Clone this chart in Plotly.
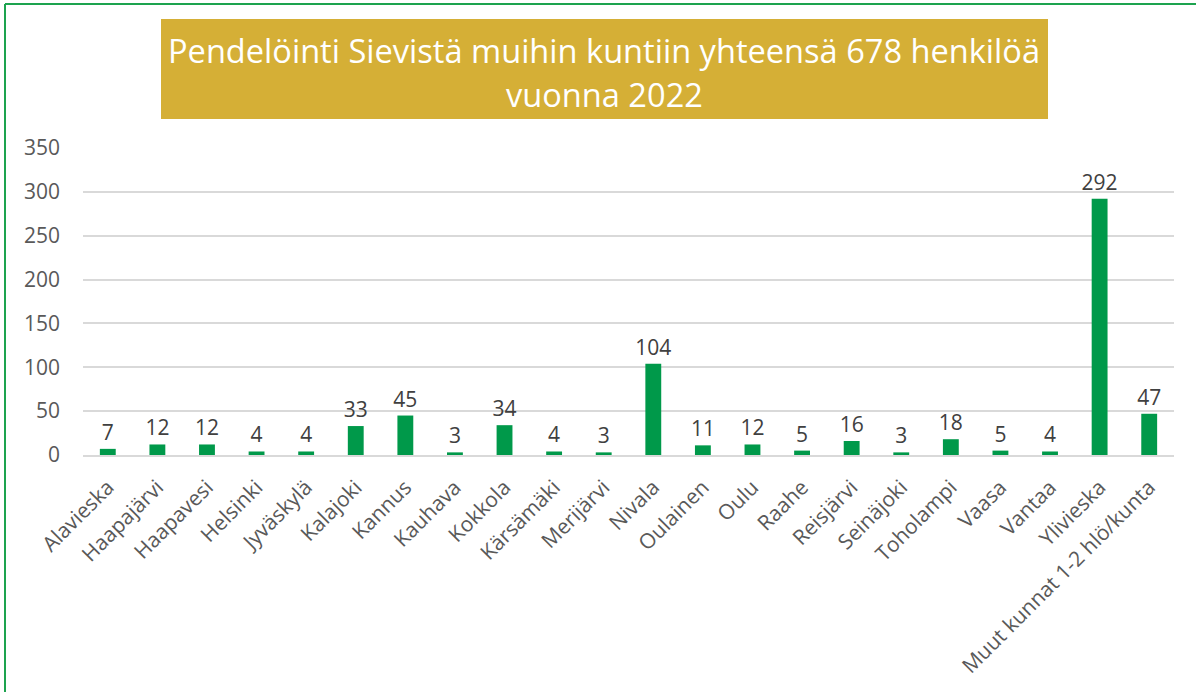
import plotly.graph_objects as go

categories = ["Alavieska", "Haapajärvi", "Haapavesi", "Helsinki", "Jyväskylä", "Kalajoki",
              "Kannus", "Kauhava", "Kokkola", "Kärsämäki", "Merijärvi", "Nivala", "Oulainen",
              "Oulu", "Raahe", "Reisjärvi", "Seinäjoki", "Toholampi", "Vaasa", "Vantaa",
              "Ylivieska", "Muut kunnat 1-2 hlö/kunta"]
values = [7, 12, 12, 4, 4, 33, 45, 3, 34, 4, 3, 104, 11, 12, 5, 16, 3, 18, 5, 4, 292, 47]
y_ticks = [0, 50, 100, 150, 200, 250, 300, 350]
title_lines = ["Pendelöinti Sievistä muihin kuntiin yhteensä 678 henkilöä", "vuonna 2022"]

W, H = 1196, 692
L, R, T, B = 83, 22, 148, 237
pw, ph = W - L - R, H - T - B

def px(x):
    return (x - L) / pw

def py(y):
    return (H - B - y) / ph

FONT = "Open Sans, Noto Sans, sans-serif"
BORDER = dict(color="#1DA34F", width=2)

fig = go.Figure(go.Bar(
    x=categories, y=values,
    marker=dict(color="#00994A", line=dict(width=0)),
    text=[str(v) for v in values], textposition="outside",
    textfont=dict(family=FONT, size=21, color="#404040"),
    constraintext="none", textangle=0,
    cliponaxis=False, width=0.32,
))

fig.update_layout(
    width=W, height=H,
    margin=dict(l=L, r=R, t=T, b=B, autoexpand=False),
    paper_bgcolor="white", plot_bgcolor="white",
    showlegend=False,
    font=dict(family=FONT, color="#595959"),
    xaxis=dict(tickangle=-45, tickfont=dict(family=FONT, size=21, color="#595959"),
               showgrid=False, showline=True, linecolor="#D9D9D9", linewidth=1.5,
               ticks="", automargin=False, ticklabelstandoff=10,
               range=[-0.5, len(categories) - 0.5]),
    yaxis=dict(range=[0, 350], tickvals=y_ticks, showgrid=True, gridcolor="#D9D9D9",
               gridwidth=1.5, zeroline=False, ticks="", ticklen=0, automargin=False,
               ticklabelstandoff=22,
               tickfont=dict(family=FONT, size=21, color="#595959")),
    shapes=[
        dict(type="rect", xref="paper", yref="paper",
             x0=px(161), x1=px(1048), y0=py(119), y1=py(19),
             fillcolor="#D5AF36", line=dict(width=0), layer="below"),
        dict(type="line", xref="paper", yref="paper",
             x0=px(5), x1=px(1196), y0=py(4), y1=py(4), line=BORDER),
        dict(type="line", xref="paper", yref="paper",
             x0=px(5), x1=px(5), y0=py(4), y1=py(692), line=BORDER),
    ],
    annotations=[
        dict(xref="paper", yref="paper", x=px(604), y=py(50), text=title_lines[0],
             showarrow=False, font=dict(family=FONT, size=32.6, color="white"),
             xanchor="center", yanchor="middle"),
        dict(xref="paper", yref="paper", x=px(604), y=py(95), text=title_lines[1],
             showarrow=False, font=dict(family=FONT, size=32.6, color="white"),
             xanchor="center", yanchor="middle"),
    ],
)

fig.write_html("out.html", config={"displayModeBar": False},
               post_script="document.body.style.margin='0px';document.body.style.overflow='hidden';")
